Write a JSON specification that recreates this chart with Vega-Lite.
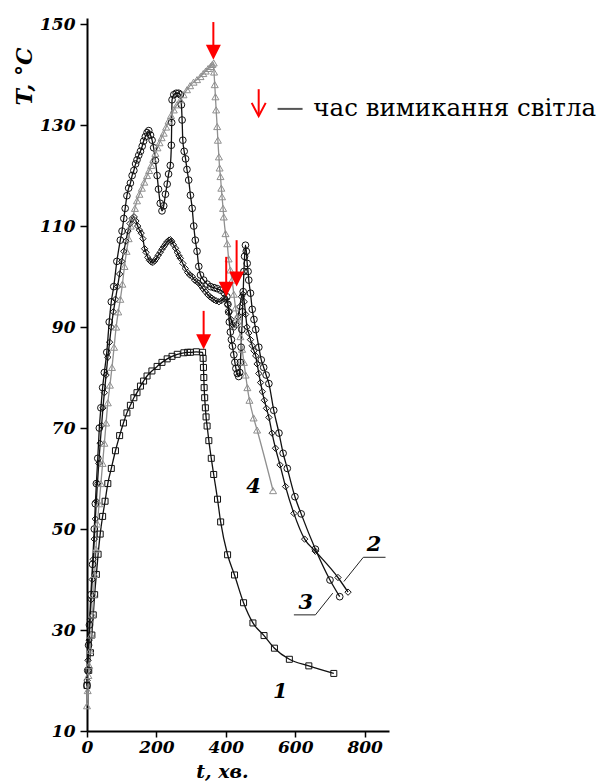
{
  "$schema": "https://vega.github.io/schema/vega-lite/v6.json",
  "autosize": {"type": "none"},
  "width": 302,
  "height": 713,
  "padding": {"left": 87, "top": 18, "right": 210, "bottom": 52},
  "background": "white",
  "config": {
    "view": {"stroke": null},
    "axis": {
      "grid": false,
      "domainColor": "black",
      "domainWidth": 2,
      "tickColor": "black",
      "tickWidth": 1.5,
      "labelFont": "DejaVu Serif",
      "labelFontStyle": "italic",
      "labelFontWeight": "bold",
      "labelFontSize": 17,
      "labelColor": "black",
      "labelFlush": false,
      "labelOverlap": false,
      "titleFont": "DejaVu Serif",
      "titleFontStyle": "italic",
      "titleFontWeight": "bold",
      "titleFontSize": 22,
      "titleColor": "black"
    }
  },
  "datasets": {
    "curves": [
      {"t":0,"T":19,"c":"1"},{"t":5,"T":22,"c":"1"},{"t":10,"T":25.5,"c":"1"},{"t":14,"T":29,"c":"1"},{"t":18,"T":33,"c":"1"},{"t":22,"T":37,"c":"1"},{"t":27,"T":41,"c":"1"},{"t":32,"T":45,"c":"1"},{"t":38,"T":49,"c":"1"},{"t":45,"T":52.5,"c":"1"},{"t":52,"T":55.5,"c":"1"},{"t":60,"T":59,"c":"1"},{"t":70,"T":62,"c":"1"},{"t":82,"T":65.5,"c":"1"},{"t":94,"T":68.5,"c":"1"},{"t":105,"T":71,"c":"1"},{"t":115,"T":73,"c":"1"},{"t":125,"T":74.5,"c":"1"},{"t":135,"T":76,"c":"1"},{"t":144,"T":77,"c":"1"},{"t":154,"T":78.3,"c":"1"},{"t":163,"T":79.3,"c":"1"},{"t":173,"T":80.3,"c":"1"},{"t":187,"T":81.3,"c":"1"},{"t":202,"T":82.2,"c":"1"},{"t":216,"T":83,"c":"1"},{"t":231,"T":83.7,"c":"1"},{"t":245,"T":84.2,"c":"1"},{"t":260,"T":84.6,"c":"1"},{"t":279,"T":84.9,"c":"1"},{"t":290,"T":85,"c":"1"},{"t":298,"T":85,"c":"1"},{"t":315,"T":85.1,"c":"1"},{"t":333,"T":85,"c":"1"},{"t":334.5,"T":83.8,"c":"1"},{"t":335.5,"T":82,"c":"1"},{"t":336.5,"T":80,"c":"1"},{"t":337.5,"T":78,"c":"1"},{"t":339,"T":76,"c":"1"},{"t":341,"T":74,"c":"1"},{"t":343,"T":72.2,"c":"1"},{"t":346,"T":70.4,"c":"1"},{"t":351,"T":67.5,"c":"1"},{"t":358,"T":64,"c":"1"},{"t":365,"T":60.8,"c":"1"},{"t":376,"T":55.9,"c":"1"},{"t":385,"T":51.4,"c":"1"},{"t":405,"T":44.9,"c":"1"},{"t":425,"T":40.9,"c":"1"},{"t":451,"T":35.4,"c":"1"},{"t":478,"T":31.4,"c":"1"},{"t":510,"T":28.9,"c":"1"},{"t":540,"T":26.4,"c":"1"},{"t":583,"T":24.2,"c":"1"},{"t":639,"T":22.9,"c":"1"},{"t":711,"T":21.4,"c":"1"},

      {"t":0,"T":20,"c":"2"},{"t":3,"T":24,"c":"2"},{"t":6,"T":28,"c":"2"},{"t":9,"T":32,"c":"2"},{"t":12,"T":36,"c":"2"},{"t":15,"T":40,"c":"2"},{"t":18,"T":44,"c":"2"},{"t":21,"T":48,"c":"2"},{"t":24,"T":52,"c":"2"},{"t":27,"T":55.5,"c":"2"},{"t":30,"T":59,"c":"2"},{"t":34,"T":63,"c":"2"},{"t":38,"T":67,"c":"2"},{"t":42,"T":70.5,"c":"2"},{"t":46,"T":74,"c":"2"},{"t":50,"T":77,"c":"2"},{"t":55,"T":80.5,"c":"2"},{"t":60,"T":84,"c":"2"},{"t":65,"T":87,"c":"2"},{"t":70,"T":90,"c":"2"},{"t":76,"T":93,"c":"2"},{"t":82,"T":95.5,"c":"2"},{"t":88,"T":98,"c":"2"},{"t":94,"T":100.5,"c":"2"},{"t":100,"T":103,"c":"2"},{"t":106,"T":105,"c":"2"},{"t":112,"T":107,"c":"2"},{"t":118,"T":109,"c":"2"},{"t":124,"T":110.5,"c":"2"},{"t":130,"T":111.5,"c":"2"},{"t":136,"T":111.8,"c":"2"},{"t":141,"T":111,"c":"2"},{"t":146,"T":110,"c":"2"},{"t":151,"T":109.2,"c":"2"},{"t":156,"T":108.6,"c":"2"},{"t":161,"T":107.5,"c":"2"},{"t":166,"T":105.5,"c":"2"},{"t":170,"T":104.8,"c":"2"},{"t":175,"T":103.8,"c":"2"},{"t":180,"T":103.2,"c":"2"},{"t":185,"T":102.9,"c":"2"},{"t":190,"T":102.8,"c":"2"},{"t":195,"T":103.1,"c":"2"},{"t":200,"T":103.6,"c":"2"},{"t":205,"T":104.2,"c":"2"},{"t":211,"T":104.8,"c":"2"},{"t":216,"T":105.4,"c":"2"},{"t":221,"T":105.9,"c":"2"},{"t":226,"T":106.4,"c":"2"},{"t":231,"T":106.9,"c":"2"},{"t":236,"T":107.2,"c":"2"},{"t":240,"T":107.3,"c":"2"},{"t":244,"T":107,"c":"2"},{"t":249,"T":106.3,"c":"2"},{"t":255,"T":105.6,"c":"2"},{"t":260,"T":104.8,"c":"2"},{"t":265,"T":104.1,"c":"2"},{"t":269,"T":103.6,"c":"2"},{"t":276,"T":102.6,"c":"2"},{"t":283,"T":101.6,"c":"2"},{"t":290,"T":100.8,"c":"2"},{"t":296,"T":100.3,"c":"2"},{"t":303,"T":100,"c":"2"},{"t":310,"T":99.3,"c":"2"},{"t":316,"T":99,"c":"2"},{"t":322,"T":98.7,"c":"2"},{"t":328,"T":98.2,"c":"2"},{"t":334,"T":97.6,"c":"2"},{"t":341,"T":97,"c":"2"},{"t":348,"T":96.4,"c":"2"},{"t":354,"T":96,"c":"2"},{"t":360,"T":95.7,"c":"2"},{"t":366,"T":95.4,"c":"2"},{"t":372,"T":95.2,"c":"2"},{"t":380,"T":95,"c":"2"},{"t":387,"T":95.2,"c":"2"},{"t":394,"T":95.6,"c":"2"},{"t":400,"T":95.5,"c":"2"},{"t":405,"T":94.5,"c":"2"},{"t":410,"T":93,"c":"2"},{"t":415,"T":91.5,"c":"2"},{"t":420,"T":90.5,"c":"2"},{"t":425,"T":90,"c":"2"},{"t":430,"T":90.5,"c":"2"},{"t":435,"T":92,"c":"2"},{"t":440,"T":94,"c":"2"},{"t":445,"T":96,"c":"2"},{"t":449,"T":96.5,"c":"2"},{"t":453,"T":95,"c":"2"},{"t":457,"T":92.5,"c":"2"},{"t":461,"T":90,"c":"2"},{"t":466,"T":88.8,"c":"2"},{"t":471,"T":87.5,"c":"2"},{"t":476,"T":86.3,"c":"2"},{"t":481,"T":85.3,"c":"2"},{"t":486,"T":84.3,"c":"2"},{"t":490,"T":82.7,"c":"2"},{"t":495,"T":80.8,"c":"2"},{"t":500,"T":79,"c":"2"},{"t":505,"T":77.2,"c":"2"},{"t":511,"T":75.5,"c":"2"},{"t":517,"T":73.9,"c":"2"},{"t":524,"T":72.1,"c":"2"},{"t":533,"T":69,"c":"2"},{"t":543,"T":66,"c":"2"},{"t":556,"T":62.7,"c":"2"},{"t":572,"T":58.4,"c":"2"},{"t":596,"T":53.1,"c":"2"},{"t":627,"T":48,"c":"2"},{"t":658,"T":45.6,"c":"2"},{"t":723,"T":40.4,"c":"2"},{"t":752,"T":37.5,"c":"2"},

      {"t":0,"T":19,"c":"3"},{"t":2,"T":22,"c":"3"},{"t":4.5,"T":27,"c":"3"},{"t":7,"T":31,"c":"3"},{"t":11,"T":37,"c":"3"},{"t":16,"T":43,"c":"3"},{"t":21,"T":50,"c":"3"},{"t":24,"T":55,"c":"3"},{"t":27,"T":59,"c":"3"},{"t":31,"T":64,"c":"3"},{"t":35.5,"T":70,"c":"3"},{"t":40,"T":74,"c":"3"},{"t":45,"T":78,"c":"3"},{"t":50,"T":81,"c":"3"},{"t":57,"T":85,"c":"3"},{"t":64,"T":91,"c":"3"},{"t":70,"T":95,"c":"3"},{"t":77,"T":98,"c":"3"},{"t":86,"T":103,"c":"3"},{"t":96,"T":107.2,"c":"3"},{"t":101,"T":109,"c":"3"},{"t":106,"T":111.5,"c":"3"},{"t":110,"T":113.5,"c":"3"},{"t":115,"T":116,"c":"3"},{"t":120,"T":117.5,"c":"3"},{"t":125,"T":118.5,"c":"3"},{"t":130,"T":120,"c":"3"},{"t":135,"T":121,"c":"3"},{"t":140,"T":122.3,"c":"3"},{"t":144,"T":123.1,"c":"3"},{"t":149,"T":124,"c":"3"},{"t":154,"T":124.8,"c":"3"},{"t":159,"T":125.8,"c":"3"},{"t":163,"T":126.8,"c":"3"},{"t":168,"T":127.7,"c":"3"},{"t":173,"T":128.5,"c":"3"},{"t":178,"T":128.9,"c":"3"},{"t":183,"T":128,"c":"3"},{"t":187.5,"T":127,"c":"3"},{"t":192,"T":125.5,"c":"3"},{"t":197,"T":123,"c":"3"},{"t":202,"T":120,"c":"3"},{"t":206,"T":117.3,"c":"3"},{"t":211,"T":114.5,"c":"3"},{"t":216,"T":113,"c":"3"},{"t":221,"T":114,"c":"3"},{"t":226,"T":116.3,"c":"3"},{"t":231,"T":118.3,"c":"3"},{"t":235,"T":120.3,"c":"3"},{"t":240,"T":122,"c":"3"},{"t":243,"T":126,"c":"3"},{"t":244,"T":130.5,"c":"3"},{"t":245,"T":135,"c":"3"},{"t":250,"T":136,"c":"3"},{"t":257,"T":136.3,"c":"3"},{"t":264,"T":136.3,"c":"3"},{"t":269,"T":136,"c":"3"},{"t":272,"T":134,"c":"3"},{"t":274,"T":131,"c":"3"},{"t":276,"T":127,"c":"3"},{"t":280,"T":124.8,"c":"3"},{"t":284,"T":123.3,"c":"3"},{"t":288,"T":121.2,"c":"3"},{"t":293,"T":119.1,"c":"3"},{"t":298,"T":116.1,"c":"3"},{"t":303,"T":113.5,"c":"3"},{"t":307.5,"T":110,"c":"3"},{"t":312,"T":107.2,"c":"3"},{"t":317,"T":105,"c":"3"},{"t":322,"T":102,"c":"3"},{"t":327,"T":100.3,"c":"3"},{"t":336,"T":99.3,"c":"3"},{"t":346,"T":98.5,"c":"3"},{"t":356,"T":98,"c":"3"},{"t":366,"T":97.8,"c":"3"},{"t":375,"T":97.6,"c":"3"},{"t":385,"T":97.3,"c":"3"},{"t":395,"T":96.8,"c":"3"},{"t":403,"T":96,"c":"3"},{"t":406,"T":94.5,"c":"3"},{"t":408,"T":93,"c":"3"},{"t":410,"T":91,"c":"3"},{"t":413,"T":89,"c":"3"},{"t":416,"T":87.5,"c":"3"},{"t":419,"T":86.2,"c":"3"},{"t":423,"T":84.5,"c":"3"},{"t":426,"T":83,"c":"3"},{"t":429,"T":81.8,"c":"3"},{"t":433,"T":80.8,"c":"3"},{"t":437,"T":80.2,"c":"3"},{"t":440,"T":81,"c":"3"},{"t":442,"T":83,"c":"3"},{"t":444,"T":86,"c":"3"},{"t":446,"T":89.5,"c":"3"},{"t":448,"T":93,"c":"3"},{"t":450,"T":97,"c":"3"},{"t":452,"T":101,"c":"3"},{"t":454,"T":104,"c":"3"},{"t":456.5,"T":106.2,"c":"3"},{"t":459,"T":105,"c":"3"},{"t":461.5,"T":102.6,"c":"3"},{"t":464,"T":101,"c":"3"},{"t":466,"T":99.3,"c":"3"},{"t":471,"T":96.7,"c":"3"},{"t":476,"T":93.5,"c":"3"},{"t":481,"T":91.5,"c":"3"},{"t":486,"T":89.5,"c":"3"},{"t":495,"T":86,"c":"3"},{"t":502,"T":83.5,"c":"3"},{"t":509,"T":82,"c":"3"},{"t":516,"T":80.5,"c":"3"},{"t":524,"T":78.8,"c":"3"},{"t":538,"T":73.5,"c":"3"},{"t":553,"T":69,"c":"3"},{"t":565,"T":65,"c":"3"},{"t":577,"T":62,"c":"3"},{"t":599,"T":56.4,"c":"3"},{"t":617,"T":53,"c":"3"},{"t":658,"T":46,"c":"3"},{"t":700,"T":39.9,"c":"3"},{"t":728,"T":36.6,"c":"3"},

      {"t":0,"T":15,"c":"4"},{"t":2,"T":18,"c":"4"},{"t":4,"T":21,"c":"4"},{"t":6,"T":23,"c":"4"},{"t":9,"T":26,"c":"4"},{"t":12,"T":29,"c":"4"},{"t":16,"T":33,"c":"4"},{"t":19,"T":37,"c":"4"},{"t":22,"T":41,"c":"4"},{"t":26,"T":46,"c":"4"},{"t":30,"T":51,"c":"4"},{"t":35,"T":55,"c":"4"},{"t":40,"T":59,"c":"4"},{"t":45,"T":63,"c":"4"},{"t":50,"T":67,"c":"4"},{"t":55,"T":71,"c":"4"},{"t":60,"T":75,"c":"4"},{"t":66,"T":78.5,"c":"4"},{"t":72,"T":82,"c":"4"},{"t":78,"T":86,"c":"4"},{"t":84,"T":90,"c":"4"},{"t":90,"T":93,"c":"4"},{"t":96,"T":95.5,"c":"4"},{"t":102,"T":98.5,"c":"4"},{"t":108,"T":102,"c":"4"},{"t":114,"T":105,"c":"4"},{"t":120,"T":107.5,"c":"4"},{"t":126,"T":110,"c":"4"},{"t":132,"T":111.8,"c":"4"},{"t":138,"T":113.5,"c":"4"},{"t":144,"T":115,"c":"4"},{"t":151,"T":116.3,"c":"4"},{"t":158,"T":117.5,"c":"4"},{"t":165,"T":118.7,"c":"4"},{"t":173,"T":120,"c":"4"},{"t":179,"T":121,"c":"4"},{"t":185,"T":122,"c":"4"},{"t":191,"T":123.2,"c":"4"},{"t":197,"T":124.4,"c":"4"},{"t":203,"T":125.5,"c":"4"},{"t":209,"T":126.5,"c":"4"},{"t":215,"T":127.5,"c":"4"},{"t":221,"T":128.4,"c":"4"},{"t":228,"T":129.6,"c":"4"},{"t":235,"T":130.8,"c":"4"},{"t":242,"T":131.9,"c":"4"},{"t":250,"T":133,"c":"4"},{"t":259,"T":134,"c":"4"},{"t":269,"T":135,"c":"4"},{"t":278,"T":136,"c":"4"},{"t":288,"T":137,"c":"4"},{"t":297,"T":137.8,"c":"4"},{"t":307,"T":138.5,"c":"4"},{"t":317,"T":139,"c":"4"},{"t":327,"T":139.6,"c":"4"},{"t":335,"T":140.2,"c":"4"},{"t":342,"T":140.7,"c":"4"},{"t":349,"T":141.2,"c":"4"},{"t":356,"T":141.6,"c":"4"},{"t":361,"T":142,"c":"4"},{"t":365,"T":142.3,"c":"4"},{"t":366,"T":140.5,"c":"4"},{"t":368,"T":138,"c":"4"},{"t":370,"T":135.6,"c":"4"},{"t":372,"T":133,"c":"4"},{"t":375,"T":129.7,"c":"4"},{"t":377,"T":127,"c":"4"},{"t":380,"T":123.7,"c":"4"},{"t":382,"T":121.5,"c":"4"},{"t":384.5,"T":119.8,"c":"4"},{"t":387,"T":117.5,"c":"4"},{"t":389,"T":115.8,"c":"4"},{"t":392,"T":113.5,"c":"4"},{"t":394,"T":111.8,"c":"4"},{"t":399,"T":108.5,"c":"4"},{"t":404,"T":106.5,"c":"4"},{"t":408,"T":103.5,"c":"4"},{"t":413,"T":101.3,"c":"4"},{"t":418,"T":99.3,"c":"4"},{"t":423,"T":96.5,"c":"4"},{"t":428,"T":93.8,"c":"4"},{"t":433,"T":92,"c":"4"},{"t":437,"T":90.7,"c":"4"},{"t":442,"T":88.1,"c":"4"},{"t":447,"T":85.6,"c":"4"},{"t":452,"T":83,"c":"4"},{"t":457,"T":80.5,"c":"4"},{"t":462,"T":78,"c":"4"},{"t":468,"T":75.5,"c":"4"},{"t":480,"T":72,"c":"4"},{"t":490,"T":69.6,"c":"4"},{"t":536,"T":57.6,"c":"4"}
    ],
    "arrows": [
      {"t":364,"T":150.4,"T2":144.4},
      {"t":336,"T":93.2,"T2":87.1},
      {"t":401,"T":103.9,"T2":97.5},
      {"t":431,"T":107.2,"T2":99.5}
    ],
    "labels": [
      {"t":480,"T":58.4,"txt":"4"},
      {"t":827,"T":46.8,"txt":"2"},
      {"t":630,"T":35.3,"txt":"3"},
      {"t":557,"T":17.8,"txt":"1"}
    ],
    "leaders": [
      {"t":796,"T":44.4,"t2":860,"T2":44.4},
      {"t":796,"T":44.4,"t2":740,"T2":39.6},
      {"t":596,"T":33,"t2":658,"T2":33},
      {"t":658,"T":33,"t2":708,"T2":37.3}
    ],
    "legend": [
      {"t":494.6,"T":137.1,"T2":131.9,"tc":494.6,"Tc":133.0,"d1":549,"d2":621,"Td":133.2,"tx":652,"Tx":131.8,"txt":"час вимикання світла"}
    ]
  },
  "layer": [
    {
      "data": {"name": "curves"},
      "mark": {"type": "line", "strokeWidth": 1.3, "interpolate": "monotone"},
      "encoding": {
        "x": {
          "field": "t", "type": "quantitative",
          "scale": {"domain": [0, 870], "nice": false, "zero": false},
          "axis": {
            "values": [0, 100, 200, 300, 400, 500, 600, 700, 800],
            "labelExpr": "datum.value % 200 === 0 ? datum.label : ''",
            "tickSize": {"condition": {"test": "datum.value % 200 === 0", "value": 6}, "value": 3},
            "labelPadding": 2,
            "title": "t, хв.",
            "titleFontSize": 19,
            "titleX": 135,
            "titleY": 46,
            "titleAlign": "center",
            "titleBaseline": "alphabetic"
          }
        },
        "y": {
          "field": "T", "type": "quantitative",
          "scale": {"domain": [10, 151.2], "nice": false, "zero": false},
          "axis": {
            "values": [10, 30, 50, 70, 90, 110, 130, 150],
            "tickSize": 7,
            "labelPadding": 5,
            "title": "T, °C",
            "titleAngle": 270,
            "titleX": -63,
            "titleY": 58,
            "titleAlign": "center",
            "titleBaseline": "middle"
          }
        },
        "detail": {"field": "c"},
        "color": {"field": "c", "type": "nominal", "scale": {"domain": ["1","2","3","4"], "range": ["#111111","#111111","#111111","#8f8f8f"]}, "legend": null}
      }
    },
    {
      "data": {"name": "curves"},
      "mark": {"type": "point", "filled": false, "strokeWidth": 1, "opacity": 1},
      "encoding": {
        "x": {"field": "t", "type": "quantitative"},
        "y": {"field": "T", "type": "quantitative"},
        "shape": {"field": "c", "type": "nominal", "scale": {"domain": ["1","2","3","4"], "range": ["square","diamond","circle","triangle-up"]}, "legend": null},
        "size": {"field": "c", "type": "nominal", "scale": {"domain": ["1","2","3","4"], "range": [36, 49, 64, 64]}, "legend": null},
        "color": {"field": "c", "type": "nominal", "legend": null}
      }
    },
    {
      "data": {"name": "leaders"},
      "mark": {"type": "rule", "color": "#222222", "strokeWidth": 1},
      "encoding": {
        "x": {"field": "t", "type": "quantitative"},
        "y": {"field": "T", "type": "quantitative"},
        "x2": {"field": "t2"},
        "y2": {"field": "T2"}
      }
    },
    {
      "data": {"name": "labels"},
      "mark": {"type": "text", "font": "DejaVu Serif", "fontStyle": "italic", "fontWeight": "bold", "fontSize": 21, "align": "center", "baseline": "middle", "color": "black"},
      "encoding": {
        "x": {"field": "t", "type": "quantitative"},
        "y": {"field": "T", "type": "quantitative"},
        "text": {"field": "txt"}
      }
    },
    {
      "data": {"name": "arrows"},
      "mark": {"type": "rule", "color": "#ff0000", "strokeWidth": 2},
      "encoding": {
        "x": {"field": "t", "type": "quantitative"},
        "y": {"field": "T", "type": "quantitative"},
        "y2": {"field": "T2"}
      }
    },
    {
      "data": {"name": "arrows"},
      "mark": {"type": "point", "shape": "M-1,-1L1,-1L0,1Z", "filled": true, "color": "#ff0000", "size": 225, "opacity": 1},
      "encoding": {
        "x": {"field": "t", "type": "quantitative"},
        "y": {"field": "T2", "type": "quantitative"}
      }
    },
    {
      "data": {"name": "legend"},
      "mark": {"type": "rule", "color": "#ff0000", "strokeWidth": 2},
      "encoding": {
        "x": {"field": "t", "type": "quantitative"},
        "y": {"field": "T", "type": "quantitative"},
        "y2": {"field": "T2"}
      }
    },
    {
      "data": {"name": "legend"},
      "mark": {"type": "point", "shape": "M-1,-1L0,0.9L1,-1", "filled": false, "color": "#ff0000", "strokeWidth": 2, "size": 196, "opacity": 1},
      "encoding": {
        "x": {"field": "tc", "type": "quantitative"},
        "y": {"field": "Tc", "type": "quantitative"}
      }
    },
    {
      "data": {"name": "legend"},
      "mark": {"type": "rule", "color": "#555555", "strokeWidth": 2},
      "encoding": {
        "x": {"field": "d1", "type": "quantitative"},
        "x2": {"field": "d2"},
        "y": {"field": "Td", "type": "quantitative"}
      }
    },
    {
      "data": {"name": "legend"},
      "mark": {"type": "text", "font": "DejaVu Serif", "fontSize": 24.5, "align": "left", "baseline": "alphabetic", "color": "black"},
      "encoding": {
        "x": {"field": "tx", "type": "quantitative"},
        "y": {"field": "Tx", "type": "quantitative"},
        "text": {"field": "txt"}
      }
    }
  ]
}
